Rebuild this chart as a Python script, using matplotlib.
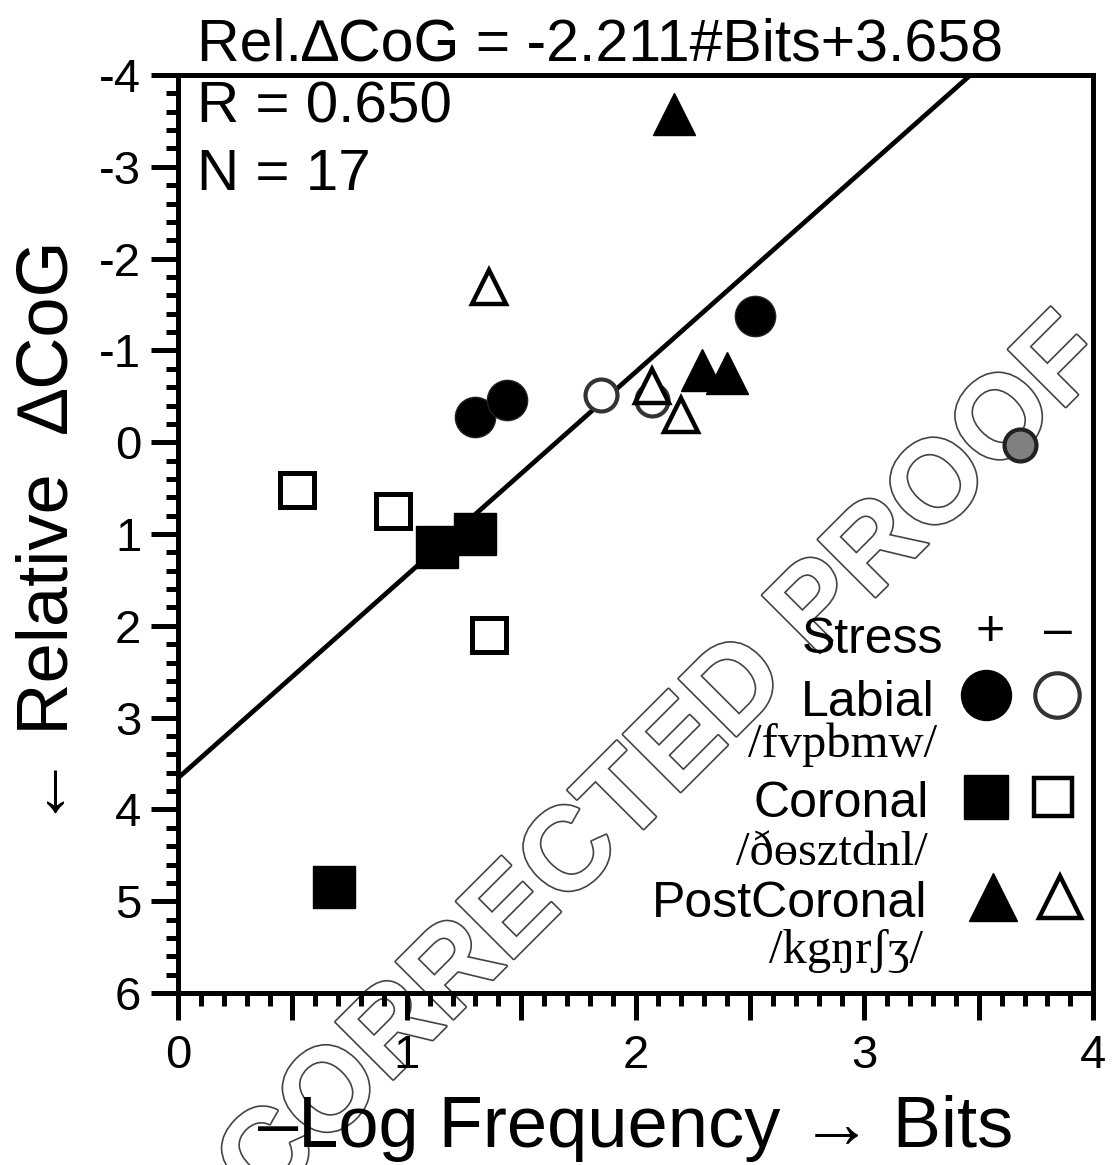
import matplotlib
matplotlib.use("Agg")
import matplotlib.pyplot as plt
import matplotlib.patheffects as pe
from matplotlib.ticker import MultipleLocator

plt.rcParams['font.family'] = ['Liberation Sans', 'DejaVu Sans']
plt.rcParams['axes.unicode_minus'] = False

# data (x: bits, y: relative delta CoG)
labial_str_x = [1.30, 1.44, 2.52]
labial_str_y = [-0.28, -0.46, -1.38]
labial_uns_x = [1.85, 2.07]
labial_uns_y = [-0.51, -0.46]
grey_x = [3.68]
grey_y = [0.03]
coronal_str_x = [1.13, 1.30, 0.68]
coronal_str_y = [1.14, 1.00, 4.85]
coronal_uns_x = [0.52, 0.94, 1.36]
coronal_uns_y = [0.52, 0.75, 2.10]
post_str_x = [2.17, 2.29, 2.40]
post_str_y = [-3.58, -0.79, -0.75]
post_uns_x = [1.36, 2.07, 2.20]
post_uns_y = [-1.69, -0.61, -0.30]

slope = -2.211
intercept = 3.658
r_value = 0.650
n_value = 17

fig = plt.figure(figsize=(11.14, 11.65), dpi=100)
fig.patch.set_facecolor('white')
ax = fig.add_axes([0.1598, 0.1476, 0.8215, 0.788])
ax.patch.set_facecolor('none')

# watermark behind everything
fig.text(0.597, 0.344, 'CORRECTED PROOF', rotation=45, ha='center', va='center',
         rotation_mode='anchor', fontsize=85, fontweight='bold', color='white',
         zorder=-1, path_effects=[pe.Stroke(linewidth=2.4, foreground='#444444'), pe.Normal()])

# regression line, clipped at the top of the plot
x_end = (-4 - intercept) / slope
ax.plot([0, x_end], [intercept, slope * x_end + intercept], color='black', lw=3.4,
        solid_capstyle='butt', zorder=2)

ax.plot(coronal_str_x, coronal_str_y, 's', ms=30, mfc='black', mec='black', mew=1, ls='none', zorder=3)
ax.plot(coronal_uns_x, coronal_uns_y, 's', ms=24, mfc='white', mec='black', mew=3.6, ls='none', zorder=3)
ax.plot(labial_str_x, labial_str_y, 'o', ms=29, mfc='black', mec='#222222', mew=1, ls='none', zorder=3)
ax.plot(labial_uns_x, labial_uns_y, 'o', ms=23, mfc='white', mec='#333333', mew=3, ls='none', zorder=3)
ax.plot(grey_x, grey_y, 'o', ms=23, mfc='#808080', mec='#222222', mew=3, ls='none', zorder=3)
ax.plot(post_str_x, post_str_y, '^', ms=30, mfc='black', mec='black', mew=1, ls='none', zorder=4)
ax.plot(post_uns_x, post_uns_y, '^', ms=24, mfc='white', mec='black', mew=3.2, ls='none', zorder=4)

ax.set_xlim(0, 4)
ax.set_ylim(6, -4)
ax.xaxis.set_minor_locator(MultipleLocator(0.1))
ax.yaxis.set_major_locator(MultipleLocator(1))
ax.yaxis.set_minor_locator(MultipleLocator(0.2))
# half-unit ticks on x are drawn long, unlabelled
ax.set_xticks([0, 0.5, 1, 1.5, 2, 2.5, 3, 3.5, 4])
ax.set_xticklabels(['0', '', '1', '', '2', '', '3', '', '4'])
ax.tick_params(which='major', length=19.5, width=3.6, labelsize=34, direction='out')
ax.tick_params(which='minor', length=9, width=3.6, direction='out')
ax.tick_params(axis='y', pad=7)
ax.tick_params(axis='x', pad=10)
for s in ax.spines.values():
    s.set_linewidth(3.6)

ax.set_xlabel('\u2013Log Frequency \u2192 Bits', fontsize=52, labelpad=12)
ax.set_ylabel('\u2190 Relative  \u2206CoG', fontsize=52, labelpad=12)

ax.text(0.021, 1.016, 'Rel.\u2206CoG = %.3f#Bits+%.3f' % (slope, intercept),
        transform=ax.transAxes, fontsize=42.5, va='baseline', ha='left')
ax.text(0.021, 0.948, 'R = %.3f' % r_value, transform=ax.transAxes, fontsize=42, va='baseline')
ax.text(0.021, 0.875, 'N = %d' % n_value, transform=ax.transAxes, fontsize=42, va='baseline')

# legend drawn by hand
T = ax.transAxes
serif = ['Liberation Serif', 'DejaVu Serif']
ax.text(0.836, 0.370, 'Stress', transform=T, fontsize=36, ha='right', va='baseline')
ax.text(0.887, 0.393, '+', transform=T, fontsize=36, ha='center', va='center')
ax.text(0.962, 0.393, '\u2013', transform=T, fontsize=36, ha='center', va='center')
ax.text(0.827, 0.302, 'Labial', transform=T, fontsize=36, ha='right', va='baseline')
ax.text(0.829, 0.257, '/fvpbmw/', transform=T, fontsize=35, ha='right', va='baseline', family=serif)
ax.text(0.820, 0.192, 'Coronal', transform=T, fontsize=36, ha='right', va='baseline')
ax.text(0.819, 0.139, '/\u00f0\u0275sztdnl/', transform=T, fontsize=35, ha='right', va='baseline', family=serif)
ax.text(0.819, 0.083, 'PostCoronal', transform=T, fontsize=36, ha='right', va='baseline')
ax.text(0.814, 0.033, '/kg\u014br\u0283\u0292/', transform=T, fontsize=35, ha='right', va='baseline', family=serif)

ax.plot([0.883], [0.325], 'o', ms=36, mfc='black', mec='black', transform=T, clip_on=False)
ax.plot([0.960], [0.325], 'o', ms=32, mfc='white', mec='#333333', mew=3, transform=T, clip_on=False)
ax.plot([0.883], [0.2135], 's', ms=31, mfc='black', mec='black', transform=T, clip_on=False)
ax.plot([0.956], [0.2135], 's', ms=28, mfc='white', mec='black', mew=3.2, transform=T, clip_on=False)
ax.plot([0.891], [0.1046], '^', ms=34, mfc='black', mec='black', transform=T, clip_on=False)
ax.plot([0.964], [0.1046], '^', ms=30, mfc='white', mec='black', mew=3.2, transform=T, clip_on=False)

fig.savefig('out.png', dpi=100, facecolor='white')
